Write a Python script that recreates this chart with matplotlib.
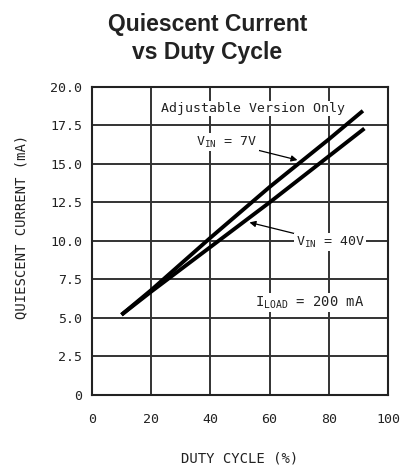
import matplotlib.pyplot as plt

# data
duty_7v = [10, 20, 40, 60, 80, 91.5]
iq_7v = [5.2, 6.8, 10.2, 13.5, 16.6, 18.45]
duty_40v = [10, 20, 40, 60, 80, 92]
iq_40v = [5.2, 6.7, 9.6, 12.5, 15.5, 17.3]

x_ticks = [0, 20, 40, 60, 80, 100]
y_ticks = [0, 2.5, 5.0, 7.5, 10.0, 12.5, 15.0, 17.5, 20.0]
y_tick_labels = ["0", "2.5", "5.0", "7.5", "10.0", "12.5", "15.0", "17.5", "20.0"]

plt.rcParams["font.family"] = "DejaVu Sans Mono"
plt.rcParams["mathtext.fontset"] = "custom"
plt.rcParams["mathtext.rm"] = "DejaVu Sans Mono"

ink = "#222222"
fig = plt.figure(figsize=(4.03, 4.70), dpi=100)
ax = fig.add_axes([0.228, 0.16, 0.735, 0.655])

ax.plot(duty_7v, iq_7v, color="black", lw=2.8, solid_capstyle="butt", zorder=3)
ax.plot(duty_40v, iq_40v, color="black", lw=2.8, solid_capstyle="butt", zorder=3)

ax.set_xlim(0, 100)
ax.set_ylim(0, 20)
ax.set_xticks(x_ticks)
ax.set_yticks(y_ticks)
ax.set_yticklabels(y_tick_labels)
ax.grid(True, color="#333333", lw=1.4)
ax.set_axisbelow(True)
ax.tick_params(length=0, labelsize=9.5, colors=ink)
ax.tick_params(axis="x", pad=13)
ax.tick_params(axis="y", pad=7)
for s in ax.spines.values():
    s.set_linewidth(1.5)
    s.set_color(ink)

box = dict(facecolor="white", edgecolor="none", pad=1.0)
ax.text(54.5, 18.6, "Adjustable Version Only", ha="center", va="center",
        fontsize=9.5, color=ink, bbox=box, zorder=4)
ax.annotate("V$_{\\mathregular{IN}}$ = 7V", xy=(69.4, 15.25), xytext=(45.5, 16.4),
            ha="center", va="center", fontsize=9.5, color=ink, bbox=box, zorder=4,
            arrowprops=dict(arrowstyle="-|>", color="black", lw=0.9,
                            shrinkA=0, shrinkB=0, mutation_scale=9))
ax.annotate("V$_{\\mathregular{IN}}$ = 40V", xy=(53.2, 11.2), xytext=(80.5, 9.9),
            ha="center", va="center", fontsize=9.5, color=ink, bbox=box, zorder=4,
            arrowprops=dict(arrowstyle="-|>", color="black", lw=0.9,
                            shrinkA=0, shrinkB=0, mutation_scale=9))
ax.text(73.5, 6.0, "I$_{\\mathregular{LOAD}}$ = 200 mA", ha="center", va="center",
        fontsize=10, color=ink, bbox=box, zorder=4)

ax.set_xlabel("DUTY CYCLE (%)", fontsize=10, color=ink)
ax.set_ylabel("QUIESCENT CURRENT (mA)", fontsize=10, color=ink)
ax.xaxis.set_label_coords(0.5, -0.183)
ax.yaxis.set_label_coords(-0.214, 0.544)

fig.suptitle("Quiescent Current\nvs Duty Cycle", x=0.515, y=0.972, fontsize=16.5,
             fontweight="bold", family="Liberation Sans", color=ink,
             linespacing=1.25)

fig.savefig("out.png", dpi=100)
